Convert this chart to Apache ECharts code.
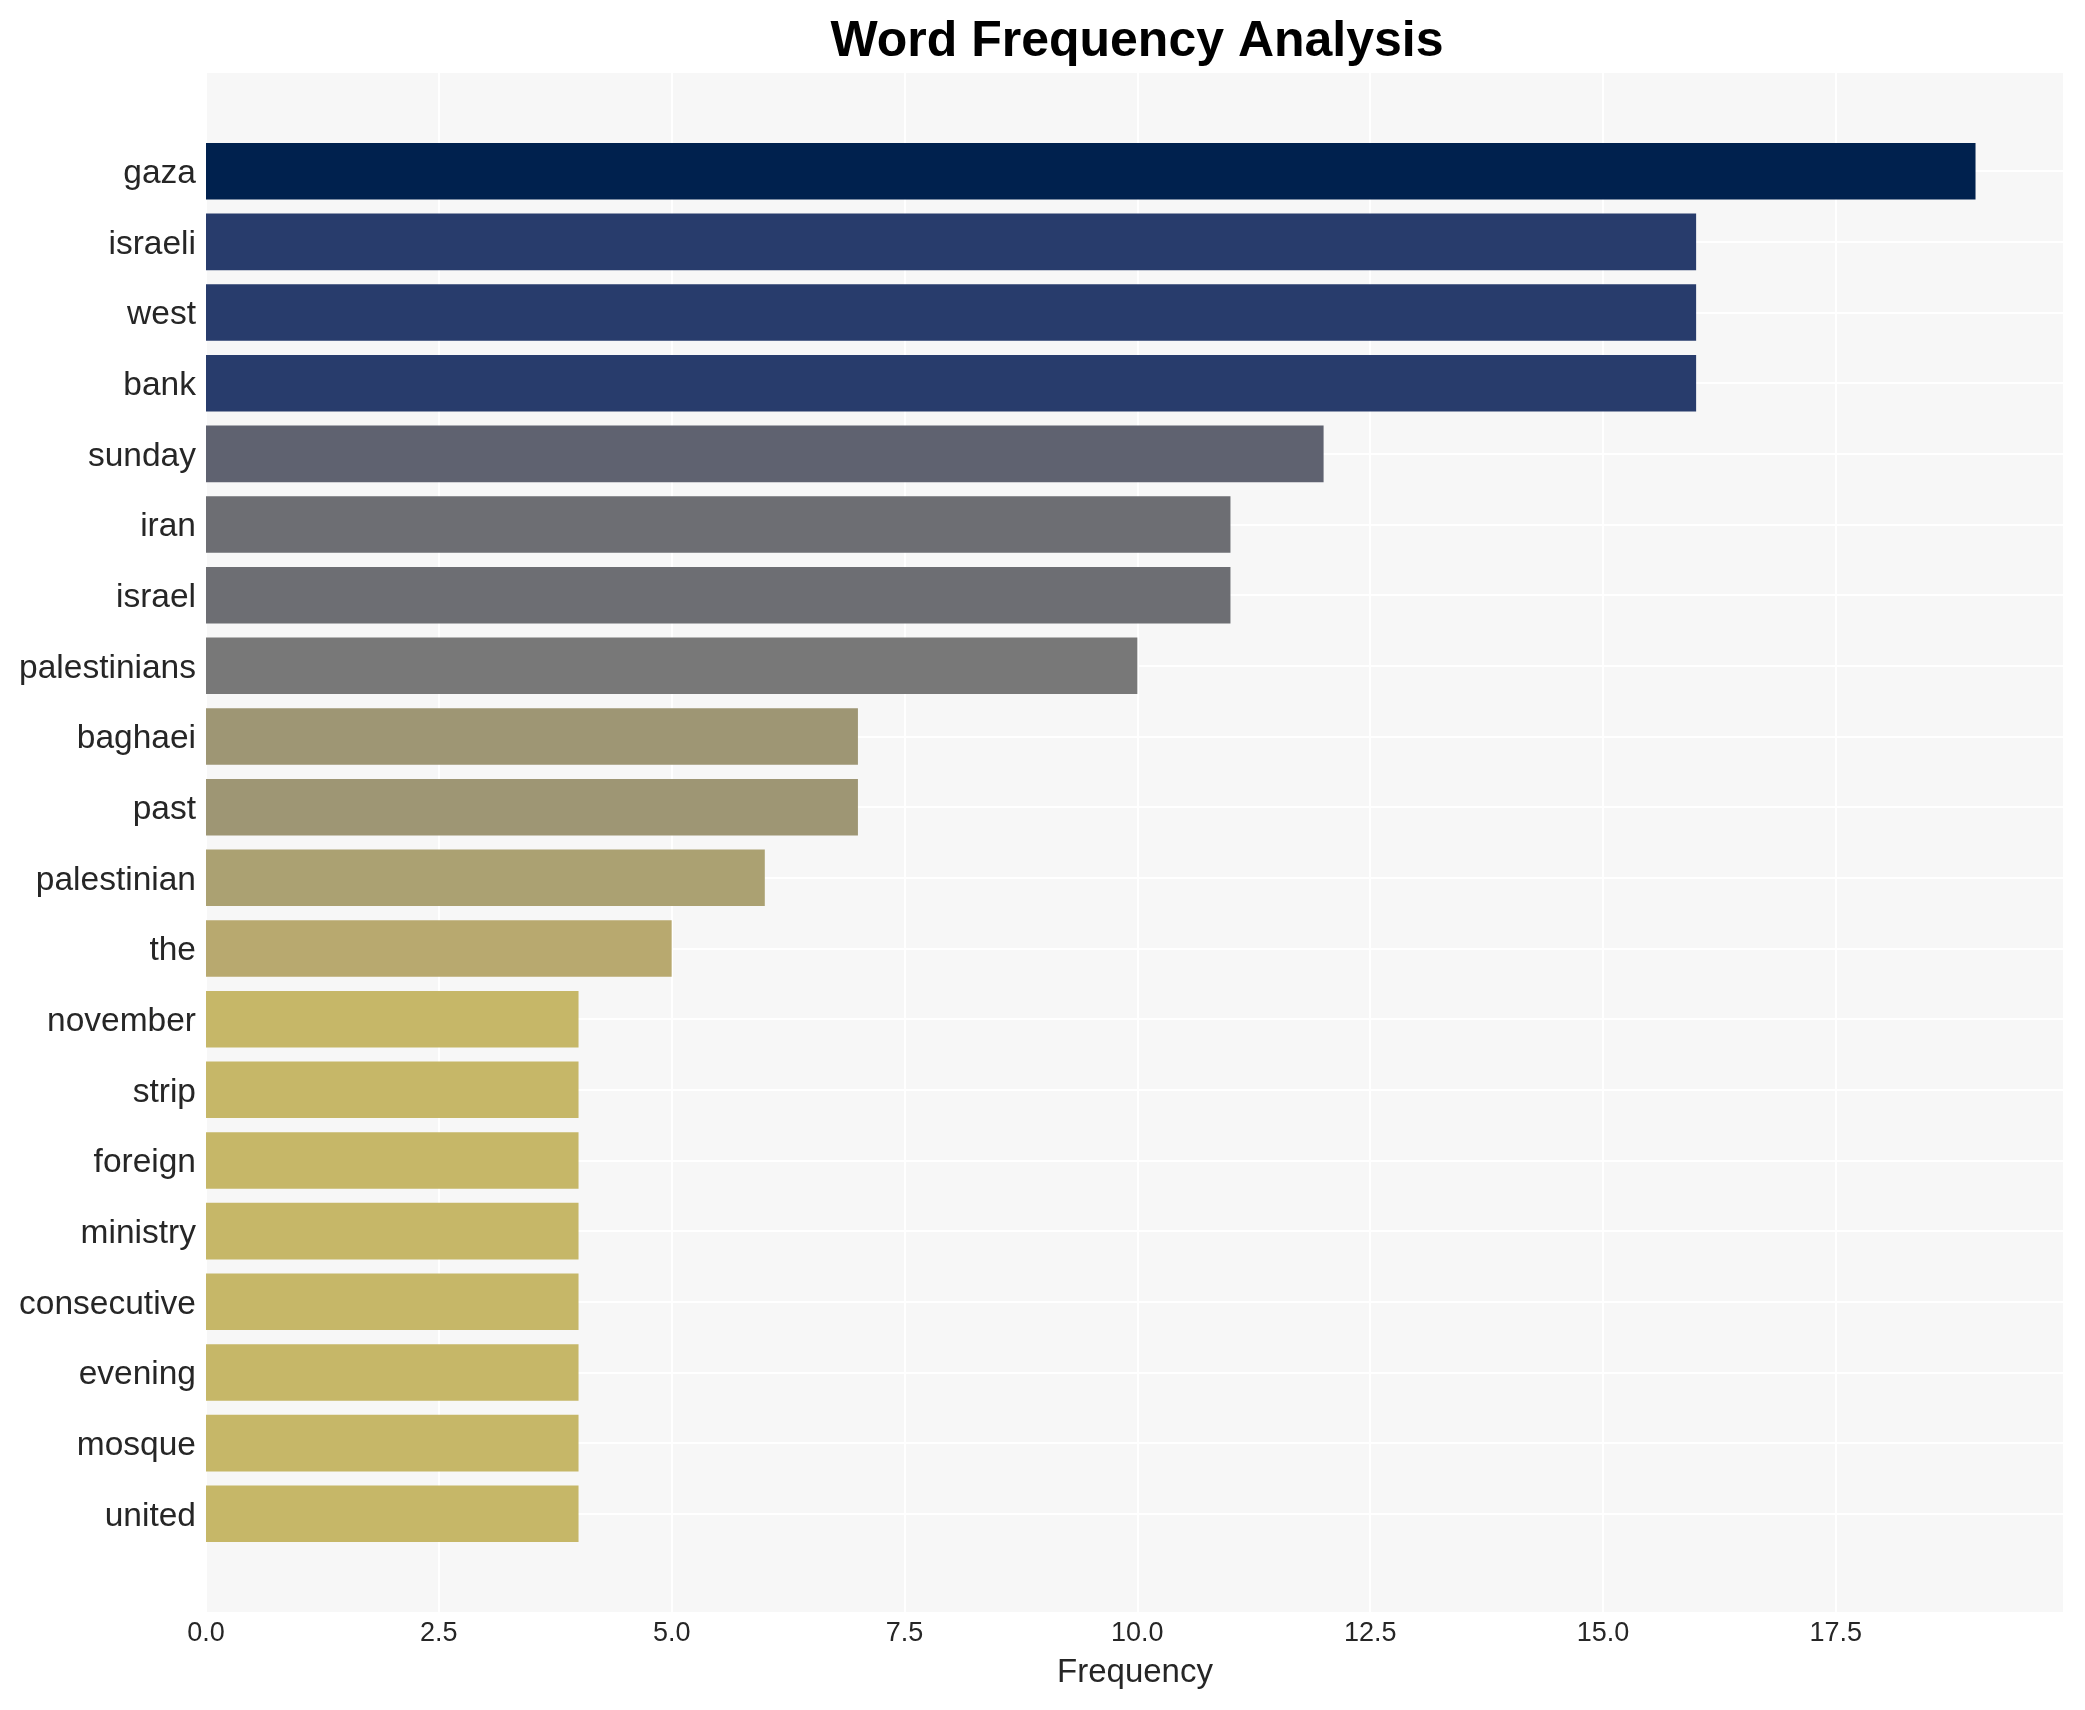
<!DOCTYPE html>
<html>
<head>
<meta charset="utf-8">
<script src="https://cdn.jsdelivr.net/npm/echarts@6/dist/echarts.min.js"></script>
<style>
html,body{margin:0;padding:0;background:#fff;}
#chart{width:2085px;height:1710px;}
</style>
</head>
<body>
<div id="chart"></div>
<script>
const categories = ['gaza','israeli','west','bank','sunday','iran','israel','palestinians','baghaei','past','palestinian','the','november','strip','foreign','ministry','consecutive','evening','mosque','united'];
const frequencies = [19,16,16,16,12,11,11,10,7,7,6,5,4,4,4,4,4,4,4,4];
const barColors = ['#00214e','#283c6c','#283c6c','#283c6c','#5f6270','#6d6e73','#6d6e73','#787878','#9e9674','#9e9674','#aba172','#b8a96f','#c6b768','#c6b768','#c6b768','#c6b768','#c6b768','#c6b768','#c6b768','#c6b768'];
const xTicks = [0, 2.5, 5, 7.5, 10, 12.5, 15, 17.5];

const FONT = "'Liberation Sans', Arial, Helvetica, sans-serif";
const PL = 206, PW = 1858;
const PT = 73, PH = 1539;
const band = PH / 21.78;
const BT = PT + band * (1.39 - 0.5);
const BH = band * 20;

const chart = echarts.init(document.getElementById('chart'), null, {renderer: 'canvas'});
chart.setOption({
  backgroundColor: '#ffffff',
  animation: false,
  title: {
    text: 'Word Frequency Analysis',
    left: PL + PW / 2 - 3,
    textAlign: 'center',
    top: 12,
    textStyle: {fontFamily: FONT, fontSize: 50, fontWeight: 'bold', color: '#000000'}
  },
  grid: [
    {left: PL, width: PW, top: PT, height: PH, show: true, backgroundColor: '#f7f7f7', borderWidth: 0, containLabel: false},
    {left: PL, width: PW, top: BT, height: BH, show: false, containLabel: false},
    {left: PL, width: PW, top: BT + band / 2, height: band * 19, show: false, containLabel: false},
    {left: PL, width: PW, top: BT + 2.5, height: BH, show: false, containLabel: false}
  ],
  xAxis: [
    {
      type: 'value', gridIndex: 0, min: 0, max: 19.95, interval: 2.5,
      axisLine: {show: false}, axisTick: {show: false},
      axisLabel: {
        fontFamily: FONT, fontSize: 27, color: '#262626', margin: 8,
        showMaxLabel: false,
        formatter: v => (xTicks.indexOf(v) >= 0 ? v.toFixed(1) : '')
      },
      splitLine: {show: true, lineStyle: {color: '#ffffff', width: 2}},
      name: 'Frequency', nameLocation: 'middle', nameGap: 44,
      nameTextStyle: {fontFamily: FONT, fontSize: 33, color: '#262626'}
    },
    {type: 'value', gridIndex: 1, min: 0, max: 19.95, show: false, splitLine: {show: false}},
    {type: 'value', gridIndex: 2, min: 0, max: 19.95, show: false, splitLine: {show: false}},
    {type: 'value', gridIndex: 3, min: 0, max: 19.95, show: false, splitLine: {show: false}}
  ],
  yAxis: [
    {type: 'value', gridIndex: 0, min: 0, max: 1, show: false, splitLine: {show: false}},
    {
      type: 'category', gridIndex: 1, data: categories, inverse: true,
      axisLine: {show: false}, axisTick: {show: false}, splitLine: {show: false},
      axisLabel: {show: false}
    },
    {
      type: 'value', gridIndex: 2, min: 0, max: 19, interval: 1, inverse: true,
      axisLine: {show: false}, axisTick: {show: false}, axisLabel: {show: false},
      splitLine: {show: true, lineStyle: {color: '#ffffff', width: 2}}
    },
    {
      type: 'category', gridIndex: 3, data: categories, inverse: true,
      axisLine: {show: false}, axisTick: {show: false}, splitLine: {show: false},
      axisLabel: {fontFamily: FONT, fontSize: 33.5, color: '#262626', margin: 10, interval: 0}
    }
  ],
  series: [
    {
      type: 'bar', xAxisIndex: 1, yAxisIndex: 1, z: 3,
      barWidth: '80%',
      data: frequencies.map((v, i) => ({value: v, itemStyle: {color: barColors[i]}})),
      silent: true
    }
  ]
});
</script>
</body>
</html>
